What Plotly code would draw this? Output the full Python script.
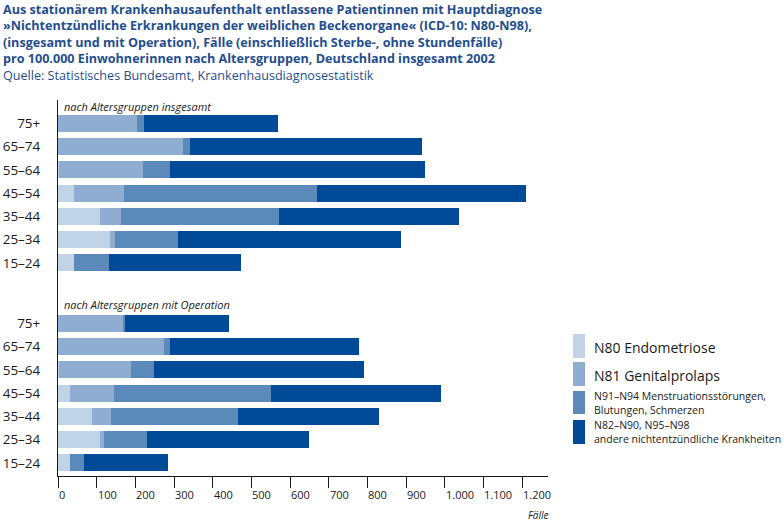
import plotly.graph_objects as go

age_groups = ["75+", "65–74", "55–64", "45–54", "35–44", "25–34", "15–24"]

series_names = [
    "N80 Endometriose",
    "N81 Genitalprolaps",
    "N91–N94 Menstruationsstörungen,<br>Blutungen, Schmerzen",
    "N82–N90, N95–N98<br>andere nichtentzündliche Krankheiten",
]
colors = ["#c1d3e6", "#8eadd0", "#5b8aba", "#004a97"]

# nach Altersgruppen insgesamt
total_n80 = [0, 0, 3, 41, 108, 134, 41]
total_n81 = [205, 322, 218, 129, 55, 13, 0]
total_n91 = [17, 20, 69, 499, 408, 162, 90]
total_n82 = [346, 600, 660, 540, 465, 578, 341]

# nach Altersgruppen mit Operation
op_n80 = [0, 0, 3, 30, 88, 108, 30]
op_n81 = [167, 274, 186, 114, 49, 11, 0]
op_n91 = [6, 16, 58, 406, 328, 112, 37]
op_n82 = [270, 489, 545, 441, 366, 418, 218]

x_ticks = list(range(0, 1300, 100))
x_tick_labels = ["0", "100", "200", "300", "400", "500", "600", "700", "800", "900",
                 "1.000", "1.100", "1.200"]

title_lines = [
    "Aus stationärem Krankenhausaufenthalt entlassene Patientinnen mit Hauptdiagnose",
    "»Nichtentzündliche Erkrankungen der weiblichen Beckenorgane« (ICD-10: N80-N98),",
    "(insgesamt und mit Operation), Fälle (einschließlich Sterbe-, ohne Stundenfälle)",
    "pro 100.000 Einwohnerinnen nach Altersgruppen, Deutschland insgesamt 2002",
]
source_line = "Quelle: Statistisches Bundesamt, Krankenhausdiagnosestatistik"
sub_total = "nach Altersgruppen insgesamt"
sub_op = "nach Altersgruppen mit Operation"

FONT = "Open Sans"
W, H = 784, 524
ML, MR, MT, MB = 58, 236, 100, 48
PW, PH = W - ML - MR, H - MT - MB


def px_x(px):
    return (px - ML) / PW


def px_y(py):
    return (H - MB - py) / PH


# row positions: top group 0..6, bottom group after a gap
gap = 2.6
top_pos = list(range(len(age_groups)))
bot_pos = [len(age_groups) - 1 + gap + i for i in range(len(age_groups))]

fig = go.Figure()
top_series = [total_n80, total_n81, total_n91, total_n82]
bot_series = [op_n80, op_n81, op_n91, op_n82]
for name, col, tv, bv in zip(series_names, colors, top_series, bot_series):
    fig.add_trace(go.Bar(
        x=tv + bv, y=top_pos + bot_pos, orientation="h",
        marker=dict(color=col, line=dict(width=0)), width=0.73,
        name=name, showlegend=False,
    ))

fig.update_layout(
    barmode="stack",
    width=W, height=H,
    margin=dict(l=ML, r=MR, t=MT, b=MB, autoexpand=False),
    plot_bgcolor="white", paper_bgcolor="white",
    font=dict(family=FONT, color="#1a1a1a"),
    xaxis=dict(
        range=[0, 1267], showgrid=False, zeroline=False, automargin=False,
        showline=True, linecolor="#1a1a1a", linewidth=1,
        tickvals=x_ticks, ticks="outside", ticklen=11, tickcolor="#1a1a1a",
        showticklabels=False,
    ),
    yaxis=dict(
        range=[bot_pos[-1] + 0.56, -1.0], showgrid=False, zeroline=False,
        automargin=False,
        showline=True, linecolor="#1a1a1a", linewidth=1,
        tickvals=top_pos + bot_pos, ticktext=age_groups + age_groups,
        ticks="", ticklabelstandoff=14,
        tickfont=dict(size=13.5, color="#1a1a1a", family=FONT),
    ),
)

anns = []
anns.append(dict(
    x=px_x(1), y=px_y(-1), xref="paper", yref="paper",
    text="<br>".join("<b>" + t + "</b>" for t in title_lines) + "<br>" + source_line,
    showarrow=False, xanchor="left", yanchor="top", align="left",
    font=dict(size=12.6, color="#1f4e8f", family=FONT),
))
for v, lab in zip(x_ticks, x_tick_labels):
    anns.append(dict(x=v, y=px_y(494), xref="x", yref="paper", text=lab,
                     showarrow=False, xanchor="left", yanchor="middle", xshift=-1,
                     font=dict(size=11, color="#1a1a1a", family=FONT)))
anns.append(dict(x=px_x(550), y=px_y(515), xref="paper", yref="paper", text="<i>Fälle</i>",
                 showarrow=False, xanchor="right", yanchor="middle",
                 font=dict(size=10, color="#1a1a1a", family=FONT)))
anns.append(dict(x=px_x(62), y=px_y(106), xref="paper", yref="paper", text="<i>" + sub_total + "</i>",
                 showarrow=False, xanchor="left", yanchor="middle",
                 font=dict(size=11, color="#1a1a1a", family=FONT)))
anns.append(dict(x=px_x(62), y=px_y(304), xref="paper", yref="paper", text="<i>" + sub_op + "</i>",
                 showarrow=False, xanchor="left", yanchor="middle",
                 font=dict(size=11, color="#1a1a1a", family=FONT)))

# legend drawn manually
leg_boxes = [(334, 358), (362, 386), (391, 414), (420, 444)]
leg_sizes = [14, 14, 10.5, 10.5]
shapes = []
for (y0, y1), col, name, fs in zip(leg_boxes, colors, series_names, leg_sizes):
    shapes.append(dict(type="rect", xref="paper", yref="paper",
                       x0=px_x(573), x1=px_x(585), y0=px_y(y1), y1=px_y(y0),
                       fillcolor=col, line=dict(width=0)))
    anns.append(dict(x=px_x(592), y=px_y((y0 + y1) / 2 + (1 if fs == 14 else 0)),
                     xref="paper", yref="paper", text=name,
                     showarrow=False, xanchor="left", yanchor="middle", align="left",
                     font=dict(size=fs, color="#1a1a1a", family=FONT)))

fig.update_layout(annotations=anns, shapes=shapes)
fig.write_html("out.html")
